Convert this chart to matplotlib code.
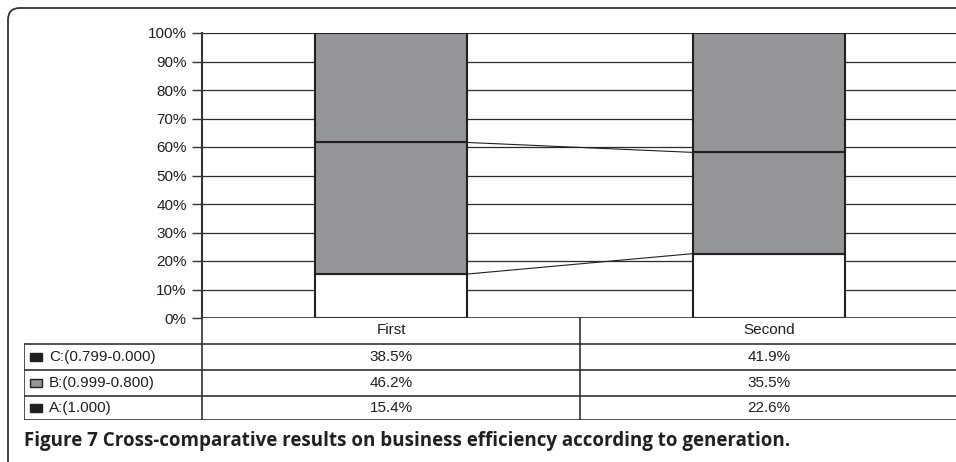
import matplotlib.pyplot as plt
from matplotlib.patches import FancyBboxPatch, Rectangle

# data (shares in %)
generations = ['First', 'Second']
share_a = [15.4, 22.6]
share_b = [46.2, 35.5]
share_c = [38.5, 41.9]
legend_labels = ['C:(0.799-0.000)', 'B:(0.999-0.800)', 'A:(1.000)']
y_ticks = list(range(0, 101, 10))

W, H = 956, 462
dark = '#231f20'
gray = '#939598'

fig = plt.figure(figsize=(W / 100, H / 100), dpi=100)

# background axes in pixel coords for the frame and caption
bg = fig.add_axes([0, 0, 1, 1])
bg.set_xlim(0, W)
bg.set_ylim(H, 0)
bg.axis('off')
frame = FancyBboxPatch((8, 8), 1000, 500, boxstyle='round,pad=0,rounding_size=12',
                       fill=False, edgecolor='#333333', linewidth=1.3)
bg.add_patch(frame)
bg.text(24, 446, 'Figure 7 Cross-comparative results on business efficiency according to generation.',
        fontfamily='Open Sans', fontweight='bold', fontsize=13.5, color=dark, va='baseline')

# main chart
px = 378  # pixels per category
ax = fig.add_axes([202 / W, (H - 318) / H, 2 * px / W, 285 / H])
x = list(range(len(generations)))
bw = 0.4
bottom_b = share_a
bottom_c = [a + b for a, b in zip(share_a, share_b)]
ax.bar(x, share_a, width=bw, color='white', edgecolor=dark, linewidth=1.5, zorder=3)
ax.bar(x, share_b, width=bw, bottom=bottom_b, color=gray, edgecolor=dark, linewidth=1.5, zorder=3)
ax.bar(x, share_c, width=bw, bottom=bottom_c, color=gray, edgecolor=dark, linewidth=1.5, zorder=3)

# series lines joining the bars
ax.plot([x[0] + bw / 2, x[1] - bw / 2], bottom_b, color=dark, linewidth=0.8, zorder=2)
ax.plot([x[0] + bw / 2, x[1] - bw / 2], bottom_c, color=dark, linewidth=0.8, zorder=2)

ax.set_xlim(-0.5, 1.5)
ax.set_ylim(0, 100)
ax.set_yticks(y_ticks)
ax.set_yticklabels([f'{t}%' for t in y_ticks])
ax.yaxis.grid(True, color='#2b2b2b', linewidth=0.9)
ax.set_axisbelow(True)
ax.set_xticks([])
for s in ['top', 'right', 'bottom']:
    ax.spines[s].set_visible(False)
ax.spines['left'].set_color('#333333')
ax.spines['left'].set_linewidth(1.5)
ax.tick_params(axis='y', length=7, width=1, color='#333333', pad=4,
               labelsize=11, labelcolor=dark)
for lab in ax.get_yticklabels():
    lab.set_fontfamily('Liberation Sans')

# data table under the chart, same x units as the chart
tb = fig.add_axes([24 / W, (H - 420) / H, (202 + 2 * px - 24) / W, 103 / H])
left_x = -0.5 - 178 / px
tb.set_xlim(left_x, 1.5)
tb.set_ylim(4, 0)
tb.axis('off')
line_kw = dict(color='#333333', linewidth=1.2)
row_edges = [0, 1.04, 2.05, 3.06, 4]
tb.plot([-0.5, 1.5], [row_edges[0]] * 2, **line_kw)
for yy in row_edges[1:]:
    tb.plot([left_x, 1.5], [yy, yy], **line_kw)
tb.plot([left_x, left_x], [row_edges[1], 4], **line_kw)
tb.plot([-0.5, -0.5], [0, 4], **line_kw)
tb.plot([0.5, 0.5], [0, 4], **line_kw)

font_kw = dict(fontfamily='Liberation Sans', fontsize=11, color=dark, ha='center', va='center')
for i, g in enumerate(generations):
    tb.text(x[i], (row_edges[0] + row_edges[1]) / 2, g, **font_kw)
rows = [share_c, share_b, share_a]
key_colors = [dark, gray, dark]
for r, (label, vals, kc) in enumerate(zip(legend_labels, rows, key_colors)):
    yc = (row_edges[r + 1] + row_edges[r + 2]) / 2
    tb.add_patch(Rectangle((left_x + 6 / px, yc - 0.15), 12 / px, 0.3,
                           facecolor=kc, edgecolor=dark, linewidth=1))
    tb.text(left_x + 25 / px, yc, label, fontfamily='Liberation Sans', fontsize=11,
            color=dark, ha='left', va='center')
    for i, v in enumerate(vals):
        tb.text(x[i], yc, f'{v}%', **font_kw)

fig.savefig('out.png', dpi=100)
